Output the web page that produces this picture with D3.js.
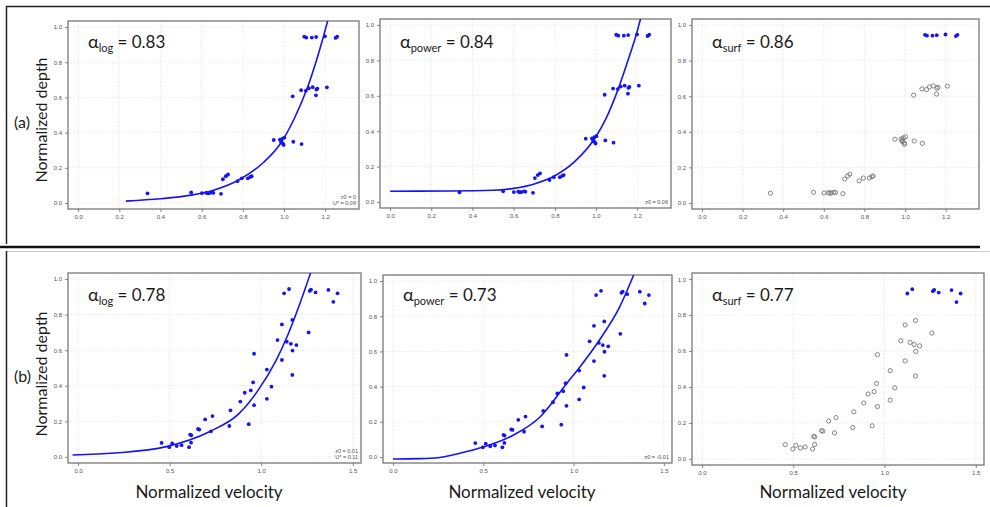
<!DOCTYPE html>
<html><head><meta charset="utf-8">
<script src="https://cdn.jsdelivr.net/npm/d3@7"></script>
<style>
html,body{margin:0;padding:0;background:#fff;}
svg{display:block;}
</style></head>
<body>
<svg id="chart" width="990" height="507"></svg>
<script>
// ---------- DATA ----------
// Panel (a): normalized velocity / depth, surfFlag = 1 for surface points (blue in "surf" panel)
const velA   = [0.337,0.549,0.601,0.622,0.630,0.637,0.650,0.657,0.694,0.703,0.717,0.728,0.774,0.795,0.824,0.836,0.843,
                0.950,0.980,0.987,0.992,0.995,0.998,1.002,0.985,1.045,1.085,
                1.042,1.083,1.106,1.120,1.139,1.157,1.162,1.155,1.208,
                1.098,1.108,1.135,1.156,1.199,1.250,1.258];
const depthA = [0.055,0.060,0.056,0.058,0.055,0.056,0.060,0.058,0.052,0.135,0.152,0.162,0.124,0.140,0.140,0.148,0.152,
                0.358,0.360,0.345,0.366,0.337,0.330,0.372,0.352,0.348,0.335,
                0.606,0.641,0.638,0.652,0.658,0.645,0.650,0.612,0.657,
                0.945,0.940,0.940,0.943,0.947,0.938,0.945];
const surfA  = [0,0,0,0,0,0,0,0,0,0,0,0,0,0,0,0,0, 0,0,0,0,0,0,0,0,0,0, 0,0,0,0,0,0,0,0,0, 1,1,1,1,1,1,1];

// Panel (b)
const velB   = [0.456,0.498,0.514,0.539,0.565,0.606,0.612,0.618,0.617,0.655,0.662,0.694,0.726,0.734,0.826,0.832,0.886,0.910,
                0.932,0.943,0.956,0.961,0.961,1.031,1.031,1.056,1.089,1.113,1.113,1.140,1.162,1.170,1.171,1.170,1.192,1.259,
                1.125,1.152,1.265,1.272,1.297,1.367,1.394,1.417];
const depthB = [0.079,0.055,0.076,0.061,0.066,0.055,0.126,0.122,0.080,0.157,0.154,0.211,0.144,0.230,0.174,0.262,0.311,0.361,
                0.184,0.374,0.419,0.580,0.291,0.327,0.491,0.395,0.657,0.545,0.745,0.648,0.636,0.770,0.598,0.461,0.629,0.700,
                0.920,0.944,0.933,0.940,0.925,0.939,0.872,0.920];
const surfB  = [0,0,0,0,0,0,0,0,0,0,0,0,0,0,0,0,0,0, 0,0,0,0,0,0,0,0,0,0,0,0,0,0,0,0,0,0, 1,1,1,1,1,1,1,1];

// Fitted profile curves
const logCurveA_v   = [0.232,0.400,0.550,0.650,0.786,0.900,0.981,1.050,1.115,1.190,1.212];
const logCurveA_d   = [0.011,0.024,0.045,0.070,0.135,0.230,0.335,0.480,0.660,0.940,1.035];
const powCurveA_v   = [0.000,0.300,0.500,0.600,0.700,0.800,0.900,1.000,1.050,1.100,1.155,1.200,1.216];
const powCurveA_d   = [0.061,0.062,0.066,0.077,0.102,0.148,0.232,0.370,0.475,0.615,0.800,0.965,1.035];
const logCurveB_v   = [-0.030,0.200,0.482,0.717,0.880,0.980,1.080,1.143,1.207,1.270];
const logCurveB_d   = [0.011,0.022,0.058,0.142,0.245,0.370,0.540,0.680,0.850,1.035];
const powCurveB_v   = [0.000,0.150,0.250,0.370,0.503,0.668,0.816,0.963,1.036,1.137,1.256,1.333];
const powCurveB_d   = [-0.011,-0.009,-0.004,0.021,0.058,0.125,0.229,0.419,0.513,0.655,0.854,1.034];

// Ticks
const xTicksA = [0.0,0.2,0.4,0.6,0.8,1.0,1.2];
const xTicksB = [0.0,0.5,1.0,1.5];
const yTicks  = [0.0,0.2,0.4,0.6,0.8,1.0];

// Labels
const alphaSubs   = ["log","power","surf"];
const alphaValsA  = ["0.83","0.84","0.86"];
const alphaValsB  = ["0.78","0.73","0.77"];
const notesA = [["z0 = 0","U* = 0.09"],["z0 = 0.06"],[]];
const notesB = [["z0 = 0.01","U* = 0.11"],["z0 = -0.01"],[]];
const rowLabels = ["(a)","(b)"];
const yTitle = "Normalized depth";
const xTitle = "Normalized velocity";

// ---------- LAYOUT ----------
const svg = d3.select("#chart");
const BLUE = "#1414f5";

const boxes = [
  {l:68, r:359, t:21, b:209},
  {l:380,r:671, t:19, b:208},
  {l:692,r:979, t:19, b:209},
  {l:68, r:361, t:273,b:463},
  {l:383,r:672, t:275,b:463},
  {l:692,r:984, t:273,b:465}
];

// frame lines
svg.append("line").attr("x1",6).attr("x2",990).attr("y1",6.5).attr("y2",6.5).attr("stroke","#222").attr("stroke-width",1.5);
svg.append("line").attr("x1",6.5).attr("x2",6.5).attr("y1",6).attr("y2",244).attr("stroke","#222").attr("stroke-width",1.5);
svg.append("line").attr("x1",0).attr("x2",980).attr("y1",247).attr("y2",247).attr("stroke","#111").attr("stroke-width",2.5);
svg.append("line").attr("x1",6).attr("x2",990).attr("y1",251.5).attr("y2",251.5).attr("stroke","#ccc").attr("stroke-width",1);
svg.append("line").attr("x1",6.5).attr("x2",6.5).attr("y1",251).attr("y2",507).attr("stroke","#222").attr("stroke-width",1.5);

function makePanel(i, opts){
  const bx = boxes[i];
  const x = d3.scaleLinear().domain(opts.xDom).range([bx.l, bx.r]);
  const y = d3.scaleLinear().domain([-0.034,1.034]).range([bx.b, bx.t]);
  const g = svg.append("g");
  const clipId = "clip"+i;
  svg.append("clipPath").attr("id",clipId).append("rect")
     .attr("x",bx.l).attr("y",bx.t).attr("width",bx.r-bx.l).attr("height",bx.b-bx.t);

  // grid
  g.append("g").selectAll("line.gx").data(opts.xTicks).join("line")
    .attr("x1",d=>x(d)).attr("x2",d=>x(d)).attr("y1",bx.t).attr("y2",bx.b)
    .attr("stroke","#dcdcdc").attr("stroke-width",0.8).attr("stroke-dasharray","1,1.5");
  g.append("g").selectAll("line.gy").data(yTicks).join("line")
    .attr("x1",bx.l).attr("x2",bx.r).attr("y1",d=>y(d)).attr("y2",d=>y(d))
    .attr("stroke","#dcdcdc").attr("stroke-width",0.8).attr("stroke-dasharray","1,1.5");

  // axes
  const xAxis = d3.axisBottom(x).tickValues(opts.xTicks).tickFormat(d3.format(".1f")).tickSize(3).tickPadding(3);
  const yAxis = d3.axisLeft(y).tickValues(yTicks).tickFormat(d3.format(".1f")).tickSize(3).tickPadding(3);
  const ax = g.append("g").attr("transform",`translate(0,${bx.b})`).call(xAxis);
  const ay = g.append("g").attr("transform",`translate(${bx.l},0)`).call(yAxis);
  [ax,ay].forEach(a=>{
    a.select(".domain").remove();
    a.selectAll("line").attr("stroke","#666").attr("stroke-width",0.8);
    a.selectAll("text").attr("fill","#555").style("font-family","Liberation Sans, Arial, sans-serif").style("font-size","6px");
  });

  // box
  g.append("rect").attr("x",bx.l).attr("y",bx.t).attr("width",bx.r-bx.l).attr("height",bx.b-bx.t)
    .attr("fill","none").attr("stroke","#777").attr("stroke-width",1.3);

  // curve
  if(opts.curveV){
    const pts = opts.curveV.map((v,k)=>[v,opts.curveD[k]]);
    g.append("path").attr("clip-path",`url(#${clipId})`)
      .attr("d", d3.line().x(p=>x(p[0])).y(p=>y(p[1])).curve(d3.curveMonotoneX)(pts))
      .attr("fill","none").attr("stroke",BLUE).attr("stroke-width",1.6);
  }

  // points
  const pts = opts.vel.map((v,k)=>({v, d:opts.depth[k], s:opts.surf[k]}));
  g.append("g").selectAll("circle").data(pts).join("circle")
    .attr("cx",p=>x(p.v)).attr("cy",p=>y(p.d))
    .attr("r", p=> (opts.surfMode && !p.s) ? 2.1 : 1.9)
    .attr("fill", p=> (opts.surfMode && !p.s) ? "none" : BLUE)
    .attr("stroke", p=> (opts.surfMode && !p.s) ? "#777" : "none")
    .attr("stroke-width",0.9);

  // alpha label
  const t = g.append("text").attr("x",bx.l+20).attr("y",opts.alphaY)
    .style("font-family","Lato, 'Open Sans', sans-serif").attr("fill","#1a1a1a");
  t.append("tspan").style("font-size","18px").text("α");
  t.append("tspan").style("font-size","11px").attr("dy",4).text(opts.sub);
  t.append("tspan").style("font-size","17px").attr("dy",-4).text(" = "+opts.val);

  // notes
  const n = opts.notes.length;
  opts.notes.forEach((s,k)=>{
    g.append("text").attr("x",bx.r-3).attr("y",bx.b-4-(n-1-k)*6)
      .attr("text-anchor","end").attr("fill","#555")
      .style("font-family","Liberation Sans, Arial, sans-serif").style("font-size","5.5px").text(s);
  });
}

for(let j=0;j<3;j++){
  makePanel(j,{xDom:[-0.049,1.364], xTicks:xTicksA, vel:velA, depth:depthA, surf:surfA,
    surfMode: j===2,
    curveV: j===0?logCurveA_v: j===1?powCurveA_v:null,
    curveD: j===0?logCurveA_d: j===1?powCurveA_d:null,
    sub:alphaSubs[j], val:alphaValsA[j], alphaY:48, notes:notesA[j]});
  makePanel(j+3,{xDom:[-0.055,1.545], xTicks:xTicksB, vel:velB, depth:depthB, surf:surfB,
    surfMode: j===2,
    curveV: j===0?logCurveB_v: j===1?powCurveB_v:null,
    curveD: j===0?logCurveB_d: j===1?powCurveB_d:null,
    sub:alphaSubs[j], val:alphaValsB[j], alphaY:301, notes:notesB[j]});
}

// axis titles
const titleFont = "Lato, 'Open Sans', sans-serif";
[[40,120],[40,374]].forEach(([cx,cy])=>{
  svg.append("text").attr("transform",`translate(${cx},${cy}) rotate(-90)`)
    .attr("text-anchor","middle").attr("dominant-baseline","central")
    .style("font-family",titleFont).style("font-size","16px").attr("fill","#1a1a1a").text(yTitle);
});
[209,522,833].forEach(cx=>{
  svg.append("text").attr("x",cx).attr("y",498).attr("text-anchor","middle")
    .style("font-family",titleFont).style("font-size","17px").attr("fill","#1a1a1a").text(xTitle);
});
[[14,128],[14,382]].forEach(([xx,yy],k)=>{
  svg.append("text").attr("x",xx).attr("y",yy)
    .style("font-family",titleFont).style("font-size","16px").attr("fill","#1a1a1a").text(rowLabels[k]);
});
</script>
</body></html>
